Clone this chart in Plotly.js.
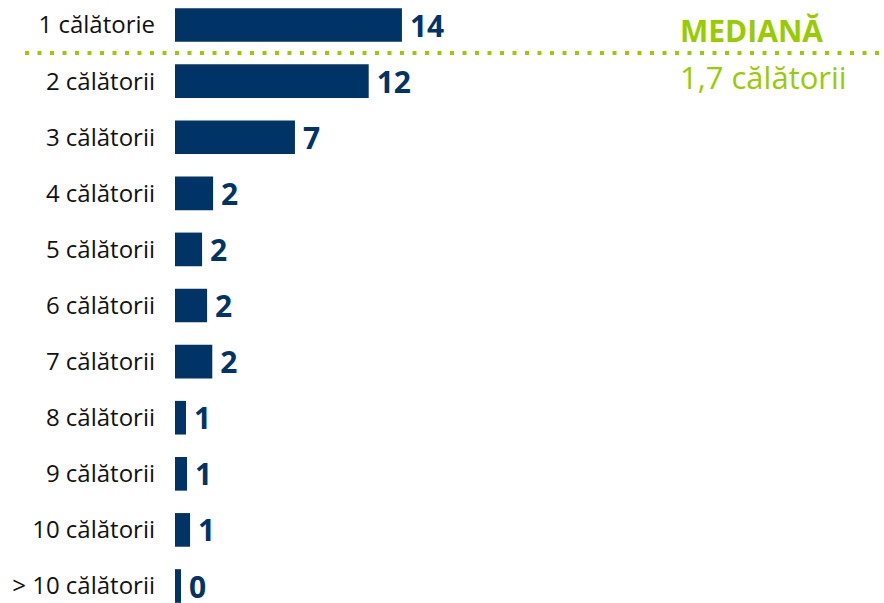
<!DOCTYPE html>
<html>
<head>
<meta charset="utf-8">
<script src="https://cdn.plot.ly/plotly-3.0.1.min.js"></script>
<style>
  html, body { margin: 0; padding: 0; background: #ffffff; }
  #chart { width: 884px; height: 603px; }
</style>
</head>
<body>
<div id="chart"></div>
<script>
// Categories (number of trips)
const categories = [
  '1 călătorie', '2 călătorii', '3 călătorii', '4 călătorii', '5 călătorii',
  '6 călătorii', '7 călătorii', '8 călătorii', '9 călătorii', '10 călătorii', '> 10 călătorii'
];
// Bar lengths (%)
const values = [14.0, 11.95, 7.4, 2.35, 1.67, 1.98, 2.3, 0.68, 0.74, 0.93, 0.37];
// Displayed data labels (rounded)
const valueLabels = ['14', '12', '7', '2', '2', '2', '2', '1', '1', '1', '0'];
// Median callout
const medianTitle = 'MEDIANĂ';
const medianText = '1,7 călătorii';

const NAVY = '#003366';
const GREEN = '#99cc00';
const FONT = '"Open Sans", "Noto Sans", sans-serif';

const W = 884, H = 603;
const plotLeft = 175;

const trace = {
  type: 'bar',
  orientation: 'h',
  y: categories,
  x: values,
  text: valueLabels,
  texttemplate: '\u2009%{text}',
  textposition: 'outside',
  constraintext: 'none',
  cliponaxis: false,
  textfont: { family: FONT, size: 30, color: NAVY, weight: 'bold' },
  marker: { color: NAVY, line: { width: 0 } },
  width: 0.6,
  hoverinfo: 'none'
};

const layout = {
  width: W,
  height: H,
  margin: { l: plotLeft, r: 0, t: 0, b: 0, pad: 0 },
  paper_bgcolor: '#ffffff',
  plot_bgcolor: '#ffffff',
  showlegend: false,
  xaxis: {
    visible: false,
    range: [0, 43.74],
    fixedrange: true
  },
  yaxis: {
    type: 'category',
    autorange: false,
    range: [10.303, -0.446],
    showgrid: false,
    showline: false,
    zeroline: false,
    ticks: '',
    ticklabelstandoff: 19,
    tickfont: { family: FONT, size: 24, color: '#111111' },
    fixedrange: true
  },
  shapes: [{
    type: 'line',
    xref: 'paper', yref: 'paper',
    x0: (25 - plotLeft) / (W - plotLeft),
    x1: (882 - plotLeft) / (W - plotLeft),
    y0: 1 - 53 / H, y1: 1 - 53 / H,
    line: { color: GREEN, width: 4, dash: '4px,8.5px' }
  }],
  annotations: [
    {
      xref: 'paper', yref: 'paper',
      x: (678 - plotLeft) / (W - plotLeft), y: 1 - 31 / H,
      xanchor: 'left', yanchor: 'middle',
      text: medianTitle, showarrow: false,
      font: { family: FONT, size: 30, color: GREEN, weight: 'bold' }
    },
    {
      xref: 'paper', yref: 'paper',
      x: (678 - plotLeft) / (W - plotLeft), y: 1 - 77 / H,
      xanchor: 'left', yanchor: 'middle',
      text: medianText, showarrow: false,
      font: { family: FONT, size: 31, color: GREEN }
    }
  ]
};

Plotly.newPlot('chart', [trace], layout, { displayModeBar: false, staticPlot: true });
</script>
</body>
</html>
